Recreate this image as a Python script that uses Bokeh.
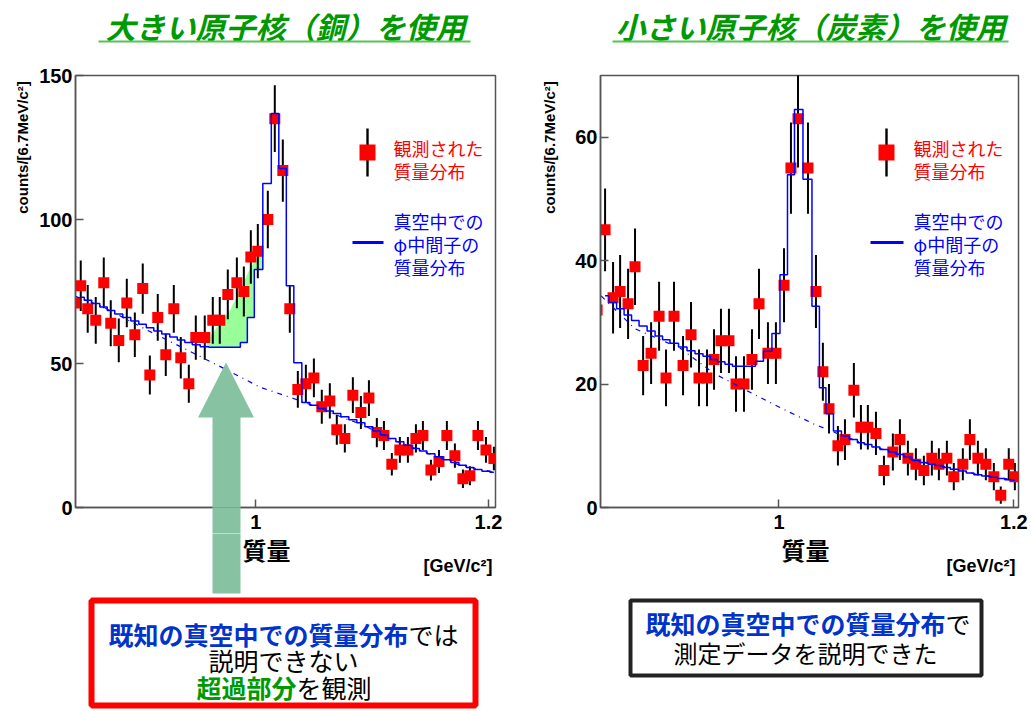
import math
from bokeh.plotting import figure
from bokeh.layouts import row, column
from bokeh.models import Label, PolyAnnotation, FixedTicker, CustomJSTickFormatter, Range1d
from bokeh.embed import file_html
from bokeh.resources import INLINE

# ---------------- data: copper (large nucleus) ----------------
cu_mass = [0.8445, 0.8495, 0.8555, 0.8624, 0.8693, 0.8753, 0.8822, 0.8891, 0.8960, 0.9028,
           0.9089, 0.9157, 0.9226, 0.9295, 0.9355, 0.9424, 0.9484, 0.9561, 0.9630, 0.9690,
           0.9759, 0.9837, 0.9897, 0.9957, 1.0017, 1.0103, 1.0163, 1.0232, 1.0292, 1.0361,
           1.0430, 1.0499, 1.0567, 1.0636, 1.0696, 1.0765, 1.0834, 1.0903, 1.0972, 1.1040,
           1.1101, 1.1169, 1.1238, 1.1307, 1.1376, 1.1436, 1.1505, 1.1574, 1.1642, 1.1711,
           1.1780, 1.1840, 1.1909, 1.1978, 1.2046]
cu_counts = [71, 77, 69, 65, 78, 64, 58, 71, 60, 76,
             46, 66, 53, 69, 52, 43, 59, 59, 65, 65,
             74, 78, 75, 87, 89, 100, 135, 117, 69, 41,
             43, 45, 35, 37, 27, 24, 39, 33, 38, 26,
             25, 15, 20, 20, 24, 25, 13, 16, 25, 18,
             10, 11, 25, 20, 17]
cu_err = [8.4, 8.8, 8.3, 8.1, 8.8, 8.0, 7.6, 8.4, 7.7, 8.7,
          6.8, 8.1, 7.3, 8.3, 7.2, 6.6, 7.7, 7.7, 8.1, 8.1,
          8.6, 8.8, 8.7, 9.3, 9.4, 10.0, 11.6, 10.8, 8.3, 6.4,
          6.6, 6.7, 5.9, 6.1, 5.2, 4.9, 6.2, 5.7, 6.2, 5.1,
          5.0, 3.9, 4.5, 4.5, 4.9, 5.0, 3.6, 4.0, 5.0, 4.2,
          3.2, 3.3, 5.0, 4.5, 4.1]
cu_fit_mass = [0.8495, 0.8555, 0.8624, 0.8693, 0.8753, 0.8822, 0.8891, 0.8960, 0.9028,
               0.9089, 0.9157, 0.9226, 0.9295, 0.9355, 0.9424, 0.9484, 0.9561, 0.9630, 0.9690,
               0.9759, 0.9837, 0.9897, 0.9957, 1.0017, 1.0103, 1.0163, 1.0232, 1.0292, 1.0361,
               1.0430, 1.0499, 1.0567, 1.0636, 1.0696, 1.0765, 1.0834, 1.0903, 1.0972, 1.1040,
               1.1101, 1.1169, 1.1238, 1.1307, 1.1376, 1.1436, 1.1505, 1.1574, 1.1642, 1.1711,
               1.1780, 1.1840, 1.1909, 1.1978, 1.2046]
cu_fit = [73.0, 72.0, 70.8, 69.6, 68.4, 67.2, 66.0, 64.8, 63.6,
          62.4, 61.3, 60.2, 59.2, 58.2, 57.3, 56.5, 55.8, 55.6, 55.6,
          55.6, 55.6, 57.3, 66.0, 82.6, 112.5, 136.8, 117.7, 77.0, 50.3,
          36.5, 35.5, 34.4, 33.5, 32.6, 31.5, 30.5, 29.4, 28.0, 26.6,
          25.2, 24.0, 22.8, 21.6, 20.5, 19.6, 18.7, 17.6, 16.6, 15.6,
          14.7, 13.9, 13.2, 12.6, 12.2]
cu_bg_mass = [0.845, 0.867, 0.907, 0.947, 0.9725, 1.004, 1.030, 1.056, 1.076, 1.090,
              1.119, 1.148, 1.176, 1.206]
cu_bg = [73.3, 70.0, 61.5, 53.5, 48.3, 41.7, 38.2, 34.4, 31.0, 29.0,
         23.3, 18.8, 14.6, 12.2]
excess_upper_mass = [0.957, 0.961, 0.970, 0.9785, 0.987, 0.994, 1.000, 1.006]
excess_upper = [55.6, 59.5, 64.5, 69.0, 76.0, 82.0, 86.5, 89.0]
excess_lower_mass = [1.006, 0.9987, 0.9987, 0.9927, 0.9927, 0.9867, 0.9867, 0.957]
excess_lower = [82.6, 82.6, 66.0, 66.0, 57.3, 57.3, 55.6, 55.6]

# ---------------- data: carbon (small nucleus) ----------------
c_mass = [0.8451, 0.8519, 0.8587, 0.8647, 0.8715, 0.8774, 0.8843, 0.8911, 0.8979, 0.9038,
          0.9106, 0.9183, 0.9251, 0.9319, 0.9387, 0.9447, 0.9506, 0.9574, 0.9634, 0.9702,
          0.9770, 0.9830, 0.9906, 0.9974, 1.0043, 1.0102, 1.0162, 1.0247, 1.0315, 1.0374,
          1.0426, 1.0502, 1.0562, 1.0638, 1.0698, 1.0757, 1.0826, 1.0894, 1.0970, 1.1030,
          1.1098, 1.1166, 1.1234, 1.1302, 1.1362, 1.1430, 1.1489, 1.1566, 1.1626, 1.1694,
          1.1762, 1.1830, 1.1889, 1.1957, 1.2009]
c_counts = [32, 45, 34, 35, 33, 39, 23, 25, 31, 21,
            31, 23, 28, 21, 21, 24, 27, 27, 20, 20,
            24, 33, 25, 25, 36, 55, 63, 55, 35, 22,
            16, 10, 11, 19, 13, 13, 12, 6, 9, 11,
            8, 7, 6, 8, 7, 8, 5, 7, 11, 8,
            7, 5, 2, 7, 5]
c_err = [5.7, 6.7, 5.8, 5.9, 5.7, 6.2, 4.8, 5.0, 5.6, 4.6,
         5.6, 4.8, 5.3, 4.6, 4.6, 4.9, 5.2, 5.2, 4.5, 4.5,
         4.9, 5.7, 5.0, 5.0, 6.0, 7.4, 7.9, 7.4, 5.9, 4.7,
         4.0, 3.2, 3.3, 4.4, 3.6, 3.6, 3.5, 2.4, 3.0, 3.3,
         2.8, 2.6, 2.4, 2.8, 2.6, 2.8, 2.2, 2.6, 3.3, 2.8,
         2.6, 2.2, 1.4, 2.6, 2.2]
c_fit_mass = [0.8519, 0.8587, 0.8647, 0.8715, 0.8774, 0.8843, 0.8911, 0.8979, 0.9038,
              0.9106, 0.9183, 0.9251, 0.9319, 0.9387, 0.9447, 0.9506, 0.9574, 0.9634, 0.9702,
              0.9770, 0.9830, 0.9906, 0.9974, 1.0043, 1.0102, 1.0162, 1.0247, 1.0315, 1.0374,
              1.0426, 1.0502, 1.0562, 1.0638, 1.0698, 1.0757, 1.0826, 1.0894, 1.0970, 1.1030,
              1.1098, 1.1166, 1.1234, 1.1302, 1.1362, 1.1430, 1.1489, 1.1566, 1.1626, 1.1694,
              1.1762, 1.1830, 1.1889, 1.1957, 1.2009]
c_fit = [34.3, 33.2, 32.2, 31.2, 30.3, 29.4, 28.6, 27.8, 27.2,
         26.6, 26.0, 25.4, 24.9, 24.5, 24.0, 23.6, 23.2, 22.9, 22.9,
         22.9, 23.7, 25.3, 28.2, 37.7, 53.9, 64.5, 53.2, 32.6, 19.4,
         15.2, 12.4, 11.6, 11.0, 10.5, 10.2, 9.8, 9.4, 9.0, 8.6,
         8.2, 7.6, 7.3, 7.0, 6.8, 6.5, 6.2, 5.9, 5.6, 5.3,
         5.1, 4.9, 4.7, 4.5, 4.4]
c_bg_mass = [0.8485, 0.877, 0.916, 0.944, 0.973, 1.002, 1.030, 1.047, 1.059, 1.073,
             1.087, 1.101, 1.115, 1.144, 1.172, 1.204]
c_bg = [34.3, 29.0, 25.8, 21.8, 18.9, 16.1, 13.5, 12.2, 11.3, 10.3,
        9.5, 8.7, 7.6, 6.5, 5.2, 4.4]

# ---------------- ticks & texts ----------------
x_ticks = [1.0, 1.2]
cu_y_ticks = [0, 50, 100, 150]
c_y_ticks = [0, 20, 40, 60]
cu_title = "大きい原子核（銅）を使用"
c_title = "小さい原子核（炭素）を使用"
y_label = "counts/[6.7MeV/c²]"
x_label = "質量"
x_unit = "[GeV/c²]"
leg_data = ["観測された", "質量分布"]
leg_vac = ["真空中での", "φ中間子の", "質量分布"]
known = "既知の真空中での質量分布"

CJK = "Noto Sans CJK JP"
LAT = "Liberation Sans"
ARROW = "#87c3a2"
GREEN = "#009a00"

# page layout (pixels from top-left of the page)
TOP_H = 63          # title strip: y 0 .. 63
MID_H = 470         # plots strip: y 63 .. 533
BOT_H = 177         # bottom strip: y 533 .. 710
FT, FB = 75, 507    # frame top / bottom
BORDER_B = TOP_H + MID_H - FB
SHAFT_OUT = BORDER_B + 3
SHAFT_X0, SHAFT_X1 = 212, 240


def lab(p, ox, oy, px, py, text, size, color="black", style="normal", align="left", font=CJK, angle=0.0):
    p.add_layout(Label(x=px - ox, y=py - oy, x_units="canvas", y_units="canvas", text=text,
                       text_font=font, text_font_size=f"{size}px", text_color=color,
                       text_font_style=style, text_align=align, text_baseline="middle",
                       angle=angle))


def poly(p, ox, oy, pts, fill=None, line=None, lw=1.0):
    p.add_layout(PolyAnnotation(xs=[a - ox for a, b in pts], ys=[b - oy for a, b in pts],
                                xs_units="canvas", ys_units="canvas",
                                fill_color=fill, fill_alpha=1.0 if fill else 0.0,
                                line_color=line, line_alpha=1.0 if line else 0.0,
                                line_width=lw))


def rect(p, ox, oy, x0, y0, x1, y1, fill=None, line=None, lw=1.0):
    poly(p, ox, oy, [(x0, y0), (x1, y0), (x1, y1), (x0, y1)], fill, line, lw)


def blank(width, height):
    p = figure(width=width, height=height, output_backend="svg", toolbar_location=None,
               x_axis_type=None, y_axis_type=None, min_border=0, title=None)
    p.outline_line_color = None
    p.background_fill_color = "white"
    p.border_fill_color = "white"
    return p


def make_panel(fig_x0, width, fl, fr, xr, yr, yticks, minor=None):
    p = figure(width=width, height=MID_H, x_range=Range1d(*xr), y_range=Range1d(*yr),
               output_backend="svg", toolbar_location=None, title=None,
               min_border_left=fl - fig_x0, min_border_right=width - (fr - fig_x0),
               min_border_top=FT - TOP_H, min_border_bottom=BORDER_B)
    p.xgrid.visible = False
    p.ygrid.visible = False
    p.background_fill_color = "white"
    p.border_fill_color = "white"
    p.outline_line_color = "#555555"
    p.outline_line_width = 1.5
    p.outline_line_alpha = 1.0
    p.xaxis.ticker = FixedTicker(ticks=x_ticks, minor_ticks=minor or [])
    p.xaxis.formatter = CustomJSTickFormatter(code="return String(Math.round(tick*10)/10);")
    p.yaxis.ticker = FixedTicker(ticks=yticks)
    for ax in (p.xaxis[0], p.yaxis[0]):
        ax.axis_line_color = "#555555"
        ax.axis_line_width = 1.5
        ax.major_tick_line_color = "#555555"
        ax.major_tick_line_width = 1.5
        ax.major_tick_in = 8
        ax.major_tick_out = 0
        ax.minor_tick_in = 0
        ax.minor_tick_out = 0
        ax.minor_tick_line_color = None
        ax.major_label_text_font = LAT
        ax.major_label_text_font_style = "bold"
        ax.major_label_text_font_size = "20px"
        ax.major_label_text_color = "black"
    p.yaxis.major_label_standoff = 3
    # labels 7px below the axis line, whatever the tick extent
    p.xaxis.major_label_standoff = 7 - (SHAFT_OUT if minor else 0)
    return p


def draw_data(p, mass, counts, err, fit_mass, fit, bg_mass, bg):
    lows = [c - e for c, e in zip(counts, err)]
    highs = [c + e for c, e in zip(counts, err)]
    p.segment(x0=mass, y0=lows, x1=mass, y1=highs, line_color="black", line_width=2)
    p.scatter(mass, counts, marker="square", size=11, fill_color="#ff0000", line_color=None)
    p.line(bg_mass, bg, line_color="#0000ff", line_width=1.2, line_dash="5 5 1 5")
    p.step(fit_mass, fit, mode="center", line_color="#0000ff", line_width=1.5)


def legend(p, ox, oy, bar_x, leg_x, line_x0, line_x1):
    rect(p, ox, oy, bar_x - 1.2, 128, bar_x + 1.2, 176, fill="black")
    rect(p, ox, oy, bar_x - 8, 144, bar_x + 8, 160, fill="#ff0000")
    for i, t in enumerate(leg_data):
        lab(p, ox, oy, leg_x, 147 + 23 * i, t, 18, "#ff0000")
    rect(p, ox, oy, line_x0, 240.5, line_x1, 243.5, fill="#0000ff")
    for i, t in enumerate(leg_vac):
        lab(p, ox, oy, leg_x, 220 + 23 * i, t, 18, "#0000ff")


# ---------------- plots ----------------
XR_L = (0.845, 1.206)
shaft_mass = XR_L[0] + ((SHAFT_X0 + SHAFT_X1) / 2 - 75) * (XR_L[1] - XR_L[0]) / 420.0

pL = make_panel(32, 491, 75, 495, XR_L, (0, 150), cu_y_ticks, minor=[shaft_mass])
ax = pL.xaxis[0]
ax.minor_tick_in = 0
ax.minor_tick_out = SHAFT_OUT
ax.minor_tick_line_color = ARROW
ax.minor_tick_line_width = SHAFT_X1 - SHAFT_X0
ax.minor_tick_line_cap = "butt"
pL.patch(excess_upper_mass + excess_lower_mass, excess_upper + excess_lower,
         fill_color="#99ff99", line_color=None)
draw_data(pL, cu_mass, cu_counts, cu_err, cu_fit_mass, cu_fit, cu_bg_mass, cu_bg)
legend(pL, 32, TOP_H, 367, 393, 352, 383)
poly(pL, 32, TOP_H, [(225.5, 362), (253.5, 417), (SHAFT_X1, 417), (SHAFT_X1, 520),
                     (SHAFT_X0, 520), (SHAFT_X0, 417), (197.5, 417)], fill=ARROW)

pR = make_panel(566, 465, 600, 1018, (0.848, 1.204), (0, 70), c_y_ticks)
draw_data(pR, c_mass, c_counts, c_err, c_fit_mass, c_fit, c_bg_mass, c_bg)
legend(pR, 566, TOP_H, 886, 913, 870, 903)

# ---------------- y-label strips ----------------
yl_L = blank(32, MID_H)
lab(yl_L, 0, TOP_H, 22, 147, y_label, 15, "black", "bold", "center", LAT, math.pi / 2)
yl_R = blank(43, MID_H)
lab(yl_R, 523, TOP_H, 549, 147, y_label, 15, "black", "bold", "center", LAT, math.pi / 2)

# ---------------- titles ----------------
tL = blank(523, TOP_H)
lab(tL, 0, 0, 285, 25, cu_title, 30, GREEN, "bold italic", "center")
rect(tL, 0, 0, 98, 40, 470, 42, fill="#55c455")
tR = blank(508, TOP_H)
lab(tR, 523, 0, 810, 25, c_title, 30, GREEN, "bold italic", "center")
rect(tR, 523, 0, 612, 40, 1008, 42, fill="#55c455")

# ---------------- bottom strips ----------------
OY = TOP_H + MID_H
bL = blank(523, BOT_H)
rect(bL, 0, OY, SHAFT_X0, OY - 3, SHAFT_X1, 593, fill=ARROW)
lab(bL, 0, OY, 266, 549, x_label, 24, "black", "bold", "center")
lab(bL, 0, OY, 423, 565, x_unit, 18, "black", "bold", "left", LAT)
rect(bL, 0, OY, 91, 600, 475, 705, line="#ff0000", lw=6)
lab(bL, 0, OY, 108, 633, known, 25, "#0033cc", "bold")
lab(bL, 0, OY, 108 + 25 * len(known), 633, "では", 25, "black")
lab(bL, 0, OY, 283, 659, "説明できない", 25, "black", "normal", "center")
lab(bL, 0, OY, 196, 686, "超過部分", 25, GREEN, "bold")
lab(bL, 0, OY, 296, 686, "を観測", 25, "black")

bR = blank(508, BOT_H)
lab(bR, 523, OY, 805, 549, x_label, 24, "black", "bold", "center")
lab(bR, 523, OY, 946, 565, x_unit, 18, "black", "bold", "left", LAT)
rect(bR, 523, OY, 630, 600, 981, 675, line="#222222", lw=4)
lab(bR, 523, OY, 645, 622, known, 25, "#0033cc", "bold")
lab(bR, 523, OY, 645 + 25 * len(known), 622, "で", 25, "black")
lab(bR, 523, OY, 805, 652, "測定データを説明できた", 24, "black", "normal", "center")

layout = column(row(tL, tR), row(yl_L, pL, yl_R, pR), row(bL, bR))
open("out.html", "w").write(file_html(layout, INLINE))
